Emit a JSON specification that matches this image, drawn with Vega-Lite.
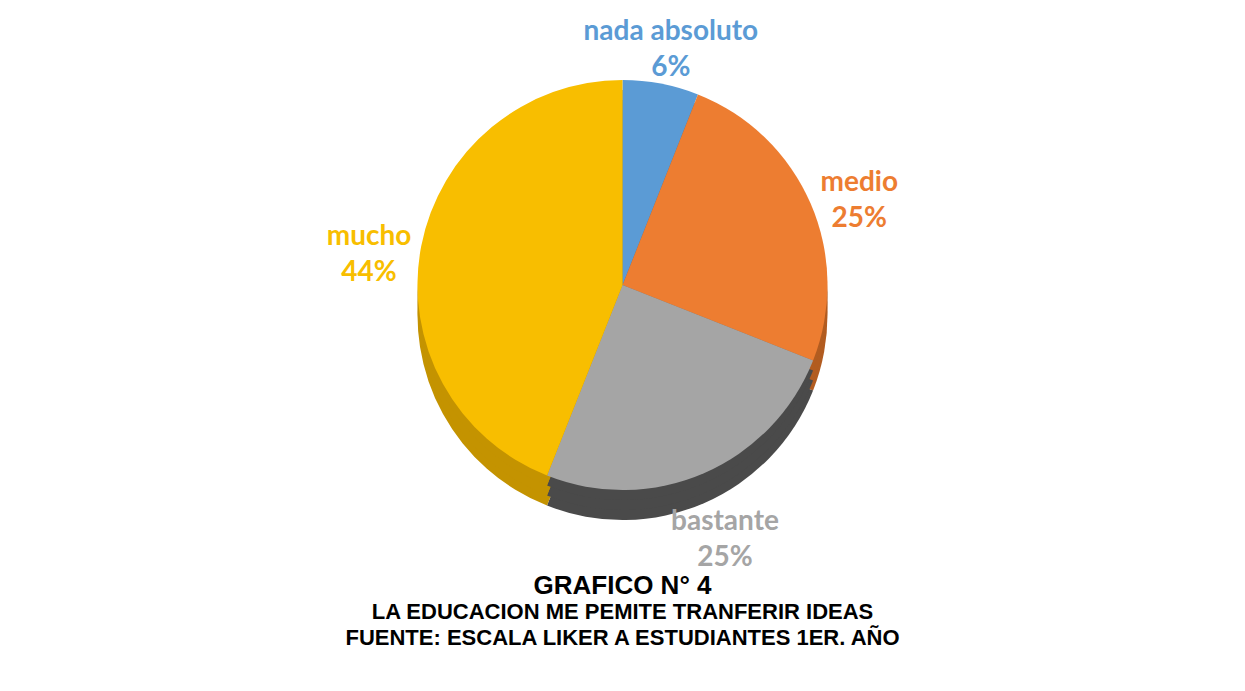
{
  "$schema": "https://vega.github.io/schema/vega-lite/v6.json",
  "width": 1235,
  "height": 560,
  "padding": {"left": 5, "right": 5, "top": 5, "bottom": 5},
  "background": "white",
  "config": {"view": {"stroke": null}},
  "title": {
    "text": "GRAFICO N° 4",
    "subtitle": ["LA EDUCACION ME PEMITE TRANFERIR IDEAS", "FUENTE: ESCALA LIKER A ESTUDIANTES 1ER. AÑO"],
    "orient": "bottom",
    "anchor": "middle",
    "offset": 1,
    "font": "Liberation Sans",
    "fontSize": 26,
    "fontWeight": "bold",
    "color": "black",
    "subtitleFont": "Liberation Sans",
    "subtitleFontSize": 22,
    "subtitleFontWeight": "bold",
    "subtitleColor": "black",
    "subtitleLineHeight": 26,
    "subtitlePadding": 3
  },
  "data": {
    "values": [
      {"categoria": "nada absoluto", "pct": 6, "orden": 1, "etiqueta": "nada absoluto\n6%"},
      {"categoria": "medio", "pct": 25, "orden": 2, "etiqueta": "medio\n25%"},
      {"categoria": "bastante", "pct": 25, "orden": 3, "etiqueta": "bastante\n25%"},
      {"categoria": "mucho", "pct": 44, "orden": 4, "etiqueta": "mucho\n44%"}
    ]
  },
  "layer": [
    {
      "mark": {"type": "arc", "outerRadius": 205, "yOffset": 30},
      "encoding": {
        "theta": {"field": "pct", "type": "quantitative", "stack": true},
        "order": {"field": "orden", "type": "quantitative"},
        "fill": {"field": "categoria", "type": "nominal", "legend": null,
          "scale": {"domain": ["nada absoluto", "medio", "bastante", "mucho"], "range": ["#3C6E9E", "#B25C20", "#4A4A4A", "#C49300"]}}
      }
    },
    {
      "mark": {"type": "arc", "outerRadius": 205, "yOffset": 20},
      "encoding": {
        "theta": {"field": "pct", "type": "quantitative", "stack": true},
        "order": {"field": "orden", "type": "quantitative"},
        "fill": {"field": "categoria", "type": "nominal", "legend": null}
      }
    },
    {
      "mark": {"type": "arc", "outerRadius": 205, "yOffset": 10},
      "encoding": {
        "theta": {"field": "pct", "type": "quantitative", "stack": true},
        "order": {"field": "orden", "type": "quantitative"},
        "fill": {"field": "categoria", "type": "nominal", "legend": null}
      }
    },
    {
      "mark": {"type": "arc", "outerRadius": 205},
      "encoding": {
        "theta": {"field": "pct", "type": "quantitative", "stack": true},
        "order": {"field": "orden", "type": "quantitative"},
        "color": {"field": "categoria", "type": "nominal", "legend": null,
          "scale": {"domain": ["nada absoluto", "medio", "bastante", "mucho"], "range": ["#5B9BD5", "#ED7D31", "#A5A5A5", "#F8BE00"]}}
      }
    },
    {
      "mark": {"type": "text", "radius": 258, "font": "Lato", "fontSize": 28, "fontWeight": "bold", "lineBreak": "\n", "lineHeight": 36, "align": "center", "baseline": "middle"},
      "encoding": {
        "theta": {"field": "pct", "type": "quantitative", "stack": true},
        "order": {"field": "orden", "type": "quantitative"},
        "text": {"field": "etiqueta", "type": "nominal"},
        "color": {"field": "categoria", "type": "nominal", "legend": null}
      }
    }
  ]
}
